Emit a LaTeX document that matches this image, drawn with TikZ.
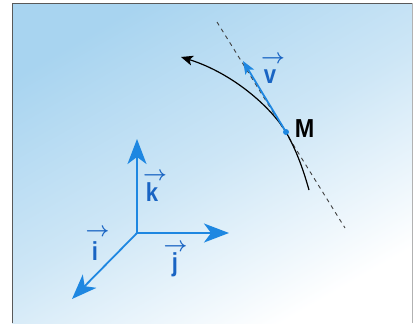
\documentclass[tikz,border=0pt]{standalone}
\usepackage{fontspec}
\setmainfont{Liberation Sans}
\usetikzlibrary{arrows.meta}
\definecolor{vblue}{RGB}{30,135,225}
\definecolor{bgblue}{RGB}{168,212,240}
\definecolor{bgmid}{RGB}{205,230,246}
\definecolor{lbl}{RGB}{25,100,195}
\tikzset{
  axis/.style={vblue, line width=1.8pt, -{Stealth[length=25pt,width=19pt,inset=7pt]}},
  vec/.style={text=lbl, font=\bfseries\fontsize{26}{28}\selectfont, inner sep=0pt, xscale=0.85},
  overarrow/.style={text=lbl, font=\fontsize{22}{24}\selectfont\boldmath, inner sep=0pt},
}
\begin{document}
\begin{tikzpicture}[x=1pt,y=-1pt]
\useasboundingbox (0,0) rectangle (416,325);
\fill[white] (0,0) rectangle (416,325);
\shade[top color=bgblue, bottom color=white, middle color=bgmid, shading angle=30] (12,3) rectangle (412,323);
\draw[gray!70!black, line width=0.9pt] (12,323) -- (12,3) -- (412,3);
\draw[gray!60, line width=0.6pt] (412,3) -- (412,323);
% points
\coordinate (O) at (137,233);
\coordinate (K) at (137,139);
\coordinate (J) at (229,233);
\coordinate (I) at (72,299);
\coordinate (M) at (286,132);
\coordinate (V) at (243,61);
\coordinate (D1) at (217,22);
\coordinate (D2) at (345,228);
\coordinate (C0) at (309,190);
\coordinate (C1) at (181,57);
% tangent
\draw[line width=0.9pt, dash pattern=on 4pt off 4pt, black!75] (D1) -- (D2);
% trajectory
\draw[line width=1.2pt, -{Stealth[length=12pt,width=10pt,inset=3pt]}] (C0) .. controls (302,165) and (295,148) .. (M) .. controls (270,106) and (232,73) .. (C1);
% velocity
\draw[vblue, line width=1.8pt, -{Stealth[length=13pt,width=10pt,inset=3pt]}] (M) -- (V);
\fill[vblue] (M) circle (3pt);
\node[font=\bfseries\fontsize{26}{28}\selectfont, inner sep=0pt, xscale=0.9] (Ml) at (304.5,129) {M};
% labels
\node[vec] (vl) at (270,76.5) {v};
\node[overarrow] (va) at (273,59.5) {$\rightarrow$};
% axes
\draw[axis] (O) -- (K);
\draw[axis] (O) -- (J);
\draw[axis] (O) -- (I);
\node[vec] (kl) at (152,192) {k};
\node[overarrow] (ka) at (155,176) {$\rightarrow$};
\node[vec] (il) at (95,251) {i};
\node[overarrow] (ia) at (97.5,232) {$\rightarrow$};
\node[vec] (jl) at (175,265) {j};
\node[overarrow] (ja) at (175.5,247) {$\rightarrow$};
\end{tikzpicture}
\end{document}
